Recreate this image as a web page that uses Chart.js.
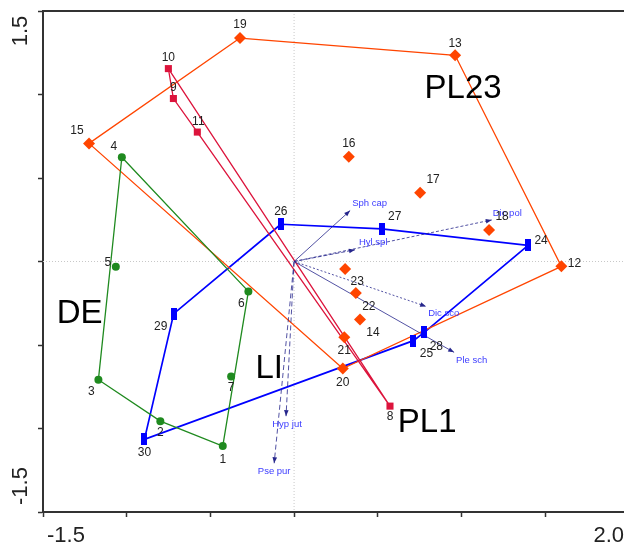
<!DOCTYPE html>
<html lang="en">
<head>
    <meta charset="UTF-8">
    <title>Ordination diagram</title>
    <script src="https://cdn.jsdelivr.net/npm/chart.js"></script>
    <style>
        body {
            margin: 0;
            padding: 0;
            background-color: #ffffff;
            overflow: hidden;
        }
    </style>
</head>
<body>
    <canvas id="grafico" width="624" height="545"></canvas>

    <script>
        // sites per group (sample number, axis 1, axis 2)
        const deIds = [1, 2, 3, 4, 5, 6, 7];
        const deX = [-0.426, -0.799, -1.169, -1.029, -1.065, -0.273, -0.376];
        const deY = [-1.105, -0.956, -0.708, 0.624, -0.032, -0.179, -0.689];

        const pl1Ids = [8, 9, 10, 11];
        const pl1X = [0.573, -0.721, -0.751, -0.578];
        const pl1Y = [-0.866, 0.976, 1.155, 0.775];

        const pl23Ids = [12, 13, 14, 15, 16, 17, 18, 19, 20, 21, 22, 23];
        const pl23X = [1.597, 0.962, 0.394, -1.225, 0.327, 0.753, 1.165, -0.323, 0.291, 0.300, 0.369, 0.305];
        const pl23Y = [-0.029, 1.235, -0.348, 0.707, 0.627, 0.412, 0.189, 1.338, -0.641, -0.454, -0.189, -0.045];

        const liIds = [24, 25, 26, 27, 28, 29, 30];
        const liX = [1.398, 0.713, -0.079, 0.524, 0.778, -0.719, -0.894];
        const liY = [0.096, -0.474, 0.223, 0.195, -0.424, -0.312, -1.065];

        // envelopes (order of sample numbers)
        const deHull = [4, 6, 1, 2, 3, 4];
        const pl1Hull = [10, 8, 11, 9, 10];
        const pl23Hull = [19, 13, 12, 20, 15, 19];
        const liHull = [26, 27, 24, 28, 25, 30, 29, 26];

        // species arrows
        const species = ['Sph cap', 'Dic pol', 'Hyl spl', 'Dic sco', 'Ple sch', 'Hyp jut', 'Pse pur'];
        const speciesX = [0.335, 1.181, 0.364, 0.789, 0.956, -0.048, -0.119];
        const speciesY = [0.305, 0.249, 0.070, -0.269, -0.544, -0.926, -1.208];

        // group names and where they sit
        const groupNames = ['PL23', 'DE', 'LI', 'PL1'];
        const groupX = [1.010, -1.281, -0.149, 0.795];
        const groupY = [1.036, -0.315, -0.641, -0.964];

        const xTickLabels = ['-1.5', '2.0'];
        const yTickLabels = ['1.5', '-1.5'];

        // --- styles ---
        const verde = '#1f8a1f';
        const rojo = '#dc143c';
        const naranja = '#ff4500';
        const azul = '#0000ff';
        const flecha = '#26268c';

        // label offsets (px) for sample numbers
        const labelOffset = {
            1: [0, 14], 2: [0, 12], 3: [-7, 12], 4: [-8, -11], 5: [-8, -4], 6: [-7, 12], 7: [0, 11],
            8: [0, 11], 9: [0, -11], 10: [0, -11], 11: [1, -10],
            12: [13, -3], 13: [0, -12], 14: [13, 13], 15: [-12, -13], 16: [0, -13], 17: [13, -13],
            18: [13, -13], 19: [0, -13], 20: [0, 14], 21: [0, 13], 22: [13, 14], 23: [12, 13],
            24: [13, -5], 25: [13, 13], 26: [0, -13], 27: [13, -12], 28: [12, 14], 29: [-13, 13], 30: [0, 13]
        };
        // species label: [dx, dy, align]
        const speciesLabelPos = [
            [2, -7, 'left'], [1, -7, 'left'], [4, -7, 'left'], [2, 7, 'left'],
            [2, 8, 'left'], [1, 8, 'center'], [0, 8, 'center']
        ];
        const arrowDash = [[], [3, 2], [4, 2], [2, 2], [], [5, 3], [5, 3]];

        function puntos(ids, xs, ys) {
            return ids.map((id, i) => ({ x: xs[i], y: ys[i], id: id }));
        }
        function envolvente(hull, ids, xs, ys) {
            return hull.map(id => {
                const i = ids.indexOf(id);
                return { x: xs[i], y: ys[i] };
            });
        }

        // tall blue rectangle marker
        const rectAzul = document.createElement('canvas');
        rectAzul.width = 6;
        rectAzul.height = 12;
        const rctx = rectAzul.getContext('2d');
        rctx.fillStyle = azul;
        rctx.fillRect(0, 0, 6, 12);

        const datasets = [];

        // points on top
        datasets.push({ label: 'DE', data: puntos(deIds, deX, deY), pointStyle: 'circle', pointRadius: 4,
            backgroundColor: verde, borderColor: verde, borderWidth: 0, order: 0 });
        datasets.push({ label: 'PL1', data: puntos(pl1Ids, pl1X, pl1Y), pointStyle: 'rect', pointRadius: 5,
            backgroundColor: rojo, borderColor: rojo, borderWidth: 0, order: 0 });
        datasets.push({ label: 'PL23', data: puntos(pl23Ids, pl23X, pl23Y), pointStyle: 'rectRot', pointRadius: 6,
            backgroundColor: naranja, borderColor: naranja, borderWidth: 0, order: 0 });
        datasets.push({ label: 'LI', data: puntos(liIds, liX, liY), pointStyle: rectAzul, pointRadius: 6,
            backgroundColor: azul, borderColor: azul, borderWidth: 0, order: 0 });

        // envelopes
        [[deHull, deIds, deX, deY, verde, 1.3],
         [pl1Hull, pl1Ids, pl1X, pl1Y, rojo, 1.3],
         [pl23Hull, pl23Ids, pl23X, pl23Y, naranja, 1.3],
         [liHull, liIds, liX, liY, azul, 1.7]].forEach(h => {
            datasets.push({
                data: envolvente(h[0], h[1], h[2], h[3]),
                showLine: true, pointRadius: 0, borderColor: h[4], borderWidth: h[5],
                fill: false, tension: 0, order: 2
            });
        });

        // species arrows
        species.forEach((s, i) => {
            datasets.push({
                data: [{ x: 0, y: 0 }, { x: speciesX[i], y: speciesY[i] }],
                showLine: true, pointRadius: 0, borderColor: flecha, borderWidth: 0.8,
                borderDash: arrowDash[i], fill: false, order: 1
            });
        });

        const adornos = {
            id: 'adornos',
            beforeDatasetsDraw(chart) {
                const { ctx, chartArea, scales } = chart;
                const x0 = scales.x.getPixelForValue(0);
                const y0 = scales.y.getPixelForValue(0);
                ctx.save();
                ctx.strokeStyle = '#c8c8c8';
                ctx.lineWidth = 1;
                ctx.setLineDash([1, 2]);
                ctx.beginPath();
                ctx.moveTo(x0, chartArea.top);
                ctx.lineTo(x0, chartArea.bottom);
                ctx.moveTo(chartArea.left, y0);
                ctx.lineTo(chartArea.right, y0);
                ctx.stroke();
                ctx.restore();
            },
            afterDatasetsDraw(chart) {
                const { ctx, chartArea, scales } = chart;
                const sx = scales.x, sy = scales.y;
                ctx.save();

                // arrow heads + species names
                const ox = sx.getPixelForValue(0), oy = sy.getPixelForValue(0);
                species.forEach((s, i) => {
                    const tx = sx.getPixelForValue(speciesX[i]);
                    const ty = sy.getPixelForValue(speciesY[i]);
                    const a = Math.atan2(ty - oy, tx - ox);
                    ctx.fillStyle = flecha;
                    ctx.beginPath();
                    ctx.moveTo(tx, ty);
                    ctx.lineTo(tx - 6 * Math.cos(a) + 2.3 * Math.sin(a), ty - 6 * Math.sin(a) - 2.3 * Math.cos(a));
                    ctx.lineTo(tx - 6 * Math.cos(a) - 2.3 * Math.sin(a), ty - 6 * Math.sin(a) + 2.3 * Math.cos(a));
                    ctx.closePath();
                    ctx.fill();

                    const p = speciesLabelPos[i];
                    ctx.fillStyle = '#3c3cff';
                    ctx.font = '9.5px Arial, "Liberation Sans", sans-serif';
                    ctx.textAlign = p[2];
                    ctx.textBaseline = 'middle';
                    ctx.fillText(s, tx + p[0], ty + p[1]);
                });

                // sample numbers
                ctx.fillStyle = '#222';
                ctx.font = '12px Arial, "Liberation Sans", sans-serif';
                ctx.textAlign = 'center';
                ctx.textBaseline = 'middle';
                chart.data.datasets.slice(0, 4).forEach(ds => {
                    ds.data.forEach(pt => {
                        const off = labelOffset[pt.id];
                        ctx.fillText(String(pt.id), sx.getPixelForValue(pt.x) + off[0], sy.getPixelForValue(pt.y) + off[1]);
                    });
                });

                // group names
                ctx.fillStyle = '#000';
                ctx.font = '33px Arial, "Liberation Sans", sans-serif';
                groupNames.forEach((g, i) => {
                    ctx.fillText(g, sx.getPixelForValue(groupX[i]), sy.getPixelForValue(groupY[i]));
                });

                // top frame line
                ctx.strokeStyle = '#333';
                ctx.lineWidth = 2;
                ctx.beginPath();
                ctx.moveTo(chartArea.left, chartArea.top);
                ctx.lineTo(chart.width, chartArea.top);
                ctx.stroke();

                // axis end labels
                ctx.fillStyle = '#222';
                ctx.font = '22px Arial, "Liberation Sans", sans-serif';
                ctx.textBaseline = 'middle';
                ctx.textAlign = 'left';
                ctx.fillText(xTickLabels[0], sx.getPixelForValue(-1.5) + 4, chartArea.bottom + 24);
                ctx.textAlign = 'right';
                ctx.fillText(xTickLabels[1], chart.width, chartArea.bottom + 24);

                ctx.textAlign = 'center';
                [[yTickLabels[0], sy.getPixelForValue(1.5) + 20], [yTickLabels[1], sy.getPixelForValue(-1.5) - 26]].forEach(t => {
                    ctx.save();
                    ctx.translate(21, t[1]);
                    ctx.rotate(-Math.PI / 2);
                    ctx.fillText(t[0], 0, 0);
                    ctx.restore();
                });
                ctx.restore();
            }
        };

        function soloMedios(scale) {
            scale.ticks = scale.ticks.filter(t => Math.abs(t.value * 2 - Math.round(t.value * 2)) < 1e-6);
        }

        const chart = new Chart(document.getElementById('grafico').getContext('2d'), {
            type: 'scatter',
            data: { datasets: datasets },
            options: {
                responsive: false,
                animation: false,
                layout: { autoPadding: false, padding: { top: 11, right: 0, left: 0, bottom: 0 } },
                plugins: {
                    legend: { display: false },
                    tooltip: { enabled: false }
                },
                scales: {
                    x: {
                        type: 'linear',
                        min: -1.5,
                        max: 1.971,
                        afterBuildTicks: soloMedios,
                        afterFit: s => { s.height = 33; s.paddingLeft = 0; s.paddingRight = 0; },
                        ticks: { stepSize: 0.5, callback: () => '' },
                        grid: { drawOnChartArea: false, drawTicks: true, tickLength: 5, tickColor: '#333', tickWidth: 1.5 },
                        border: { display: true, color: '#333', width: 2 }
                    },
                    y: {
                        type: 'linear',
                        min: -1.5,
                        max: 1.5,
                        afterBuildTicks: soloMedios,
                        afterFit: s => { s.width = 43; s.paddingTop = 0; s.paddingBottom = 0; },
                        ticks: { stepSize: 0.5, callback: () => '' },
                        grid: { drawOnChartArea: false, drawTicks: true, tickLength: 5, tickColor: '#333', tickWidth: 1.5 },
                        border: { display: true, color: '#333', width: 2 }
                    }
                }
            },
            plugins: [adornos]
        });
    </script>
</body>
</html>
